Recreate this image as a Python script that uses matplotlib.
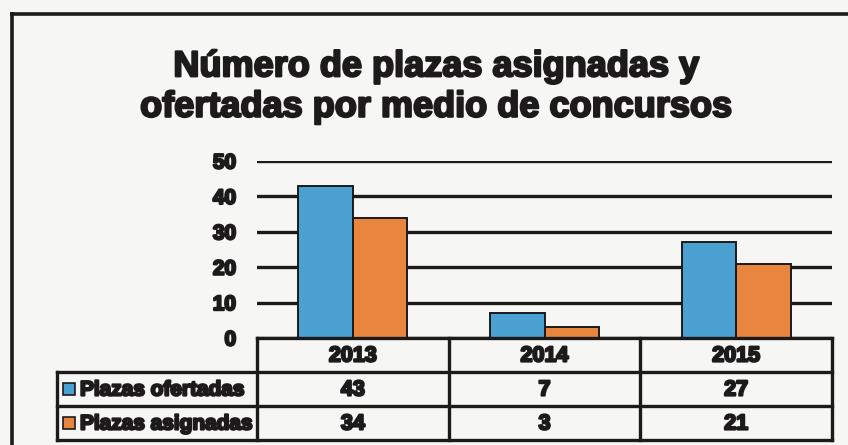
import numpy as np
import matplotlib.pyplot as plt
import matplotlib.patheffects as pe
from matplotlib.patches import Rectangle

# -------------------------------
# Data
# -------------------------------
years = ["2013", "2014", "2015"]
ofertadas = [43, 7, 27]
asignadas = [34, 3, 21]
series_names = ["Plazas ofertadas", "Plazas asignadas"]
y_ticks = [0, 10, 20, 30, 40, 50]

title = "Número de plazas asignadas y\nofertadas por medio de concursos"

# -------------------------------
# Style
# -------------------------------
BG = "#f6f6f4"
INK = "#1c1a1b"
BLUE = "#4aa0d0"
ORANGE = "#e8863f"
plt.rcParams['font.family'] = ['Liberation Sans', 'DejaVu Sans']
heavy = [pe.withStroke(linewidth=1.6, foreground=INK)]

W, H = 848, 445
fig = plt.figure(figsize=(W / 100, H / 100), dpi=100, facecolor=BG)

def fx(px):
    return px / W

def fy(py):
    return 1 - py / H

# plot area in pixels
L, R, T, B = 257, 832, 161, 338

# -------------------------------
# Overlay axes (pixel coords) for frame + table
# -------------------------------
ov = fig.add_axes([0, 0, 1, 1], zorder=3)
ov.set_xlim(0, W)
ov.set_ylim(H, 0)
ov.axis("off")
ov.patch.set_alpha(0)

# outer frame
ov.plot([10, W + 5], [13.5, 13.5], color=INK, lw=2.6, solid_capstyle="butt")
ov.plot([11.5, 11.5], [12, H + 5], color=INK, lw=2.6, solid_capstyle="butt")

ov.text(436, 87, title, ha="center", va="center", fontsize=26,
        fontweight="bold", color=INK, linespacing=1.2, path_effects=heavy)

# -------------------------------
# Bars
# -------------------------------
ax = fig.add_axes([fx(L), fy(B), fx(R - L), (B - T) / H], zorder=2)
ax.patch.set_alpha(0)
x = np.arange(len(years))
bw = 0.285
ax.bar(x - bw / 2, ofertadas, bw, color=BLUE, edgecolor=INK, linewidth=1.4, zorder=3)
ax.bar(x + bw / 2, asignadas, bw, color=ORANGE, edgecolor=INK, linewidth=1.4, zorder=3)
ax.set_xlim(-0.5, len(years) - 0.5)
ax.set_ylim(0, 50)
ax.set_yticks(y_ticks)
ax.set_xticks([])
ax.yaxis.grid(True, color=INK, linewidth=2.4)
ax.set_axisbelow(True)
for s in ax.spines.values():
    s.set_visible(False)
ax.tick_params(axis="y", length=0, pad=15, labelsize=15, labelcolor=INK)
for lab in ax.get_yticklabels():
    lab.set_fontweight("bold")
    lab.set_path_effects(heavy)

# -------------------------------
# Data table
# -------------------------------
col_w = (R - L) / len(years)
rows_y = [338, 372, 406, 440]
lab_left = 57
lw_t = 2.4

def seg(x0, x1, y0, y1):
    ov.plot([x0, x1], [y0, y1], color=INK, lw=lw_t, solid_capstyle="projecting")

# horizontal lines
seg(L, R, rows_y[0], rows_y[0])
for yy in rows_y[1:]:
    seg(lab_left, R, yy, yy)
# vertical lines
seg(L, L, rows_y[0], rows_y[-1])
seg(lab_left, lab_left, rows_y[1], rows_y[-1])
for i in range(1, len(years) + 1):
    seg(L + i * col_w, L + i * col_w, rows_y[0], rows_y[-1])

txt = dict(ha="center", va="center", fontsize=15.5, fontweight="bold",
           color=INK, path_effects=heavy)
for i, yr in enumerate(years):
    cx = L + (i + 0.5) * col_w
    ov.text(cx, (rows_y[0] + rows_y[1]) / 2 + 1, yr, **txt)
    ov.text(cx, (rows_y[1] + rows_y[2]) / 2 + 1, str(ofertadas[i]), **txt)
    ov.text(cx, (rows_y[2] + rows_y[3]) / 2 + 1, str(asignadas[i]), **txt)

for k, (name, col) in enumerate(zip(series_names, [BLUE, ORANGE])):
    cy = (rows_y[k + 1] + rows_y[k + 2]) / 2
    ov.add_patch(Rectangle((63, cy - 6), 12, 12, facecolor=col,
                           edgecolor=INK, lw=1.2))
    ov.text(80, cy + 1, name, ha="left", va="center", fontsize=15,
            fontweight="bold", color=INK, path_effects=heavy)

fig.savefig("out.png", dpi=100, facecolor=BG)
